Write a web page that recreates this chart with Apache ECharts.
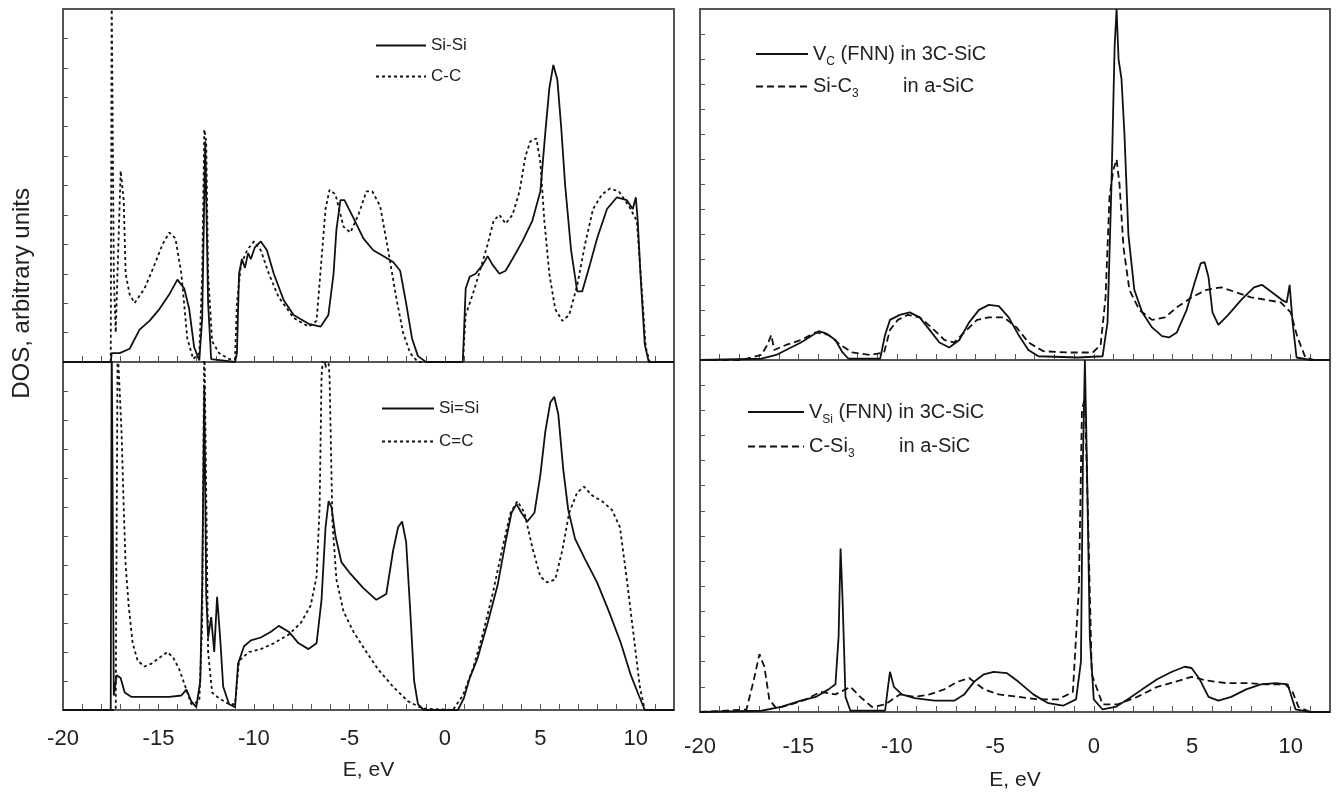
<!DOCTYPE html>
<html>
<head>
<meta charset="utf-8">
<script src="https://cdn.jsdelivr.net/npm/echarts@6/dist/echarts.min.js"></script>
<style>
  html, body { margin: 0; padding: 0; background: #fff; }
  #chart { width: 1336px; height: 793px; }
</style>
</head>
<body>
<div id="chart"></div>
<script>
// [E (eV), DOS (arb. units)]
const siSi = [[-20,0],[-17.5,0],[-17.45,0.3],[-17.03,0.3],[-16.51,0.45],[-15.99,1.1],[-15.47,1.4],[-14.95,1.8],[-14.43,2.3],[-14.01,2.8],[-13.65,2.5],[-13.39,1.8],[-13.13,0.5],[-12.86,0.05],[-12.71,1.5],[-12.55,7.5],[-12.4,2],[-12.24,0.1],[-10.99,0],[-10.89,0.3],[-10.78,3.0],[-10.63,3.5],[-10.47,3.2],[-10.31,3.7],[-10.16,3.5],[-9.95,3.9],[-9.64,4.1],[-9.32,3.8],[-8.96,3.0],[-8.44,2.1],[-7.92,1.6],[-7.14,1.3],[-6.51,1.2],[-6.1,1.6],[-5.83,3.0],[-5.68,4.5],[-5.47,5.5],[-5.26,5.5],[-4.79,4.9],[-4.27,4.2],[-3.75,3.8],[-3.23,3.6],[-2.71,3.4],[-2.34,3.1],[-2.03,2.0],[-1.72,0.8],[-1.41,0.2],[-0.99,0],[0.94,0],[1.09,2.5],[1.3,2.9],[1.61,3.0],[1.98,3.3],[2.24,3.6],[2.5,3.3],[2.86,3.0],[3.18,3.1],[3.54,3.5],[4.06,4.1],[4.58,4.8],[5.0,5.8],[5.26,7.8],[5.47,9.3],[5.68,10.1],[5.89,9.6],[6.09,8.0],[6.3,6.0],[6.61,3.8],[6.93,2.4],[7.19,2.4],[7.55,3.2],[7.97,4.2],[8.49,5.2],[9.01,5.6],[9.53,5.5],[9.84,5.2],[10.0,5.6],[10.1,4.8],[10.26,2.8],[10.47,0.6],[10.68,0],[12,0]];
const cC = [[-20,0],[-17.5,0],[-17.45,12.5],[-17.4,12.5],[-17.34,3],[-17.24,1.0],[-17.14,1.0],[-16.98,6.5],[-16.82,5.5],[-16.72,3.0],[-16.51,2.3],[-16.25,2.0],[-15.73,2.5],[-15.21,3.3],[-14.79,4.0],[-14.43,4.4],[-14.11,4.2],[-13.8,3.0],[-13.49,0.8],[-13.18,0.1],[-12.86,0.3],[-12.71,3],[-12.6,7.9],[-12.5,7.5],[-12.4,3],[-12.19,0.7],[-11.82,0.3],[-11.3,0.1],[-10.99,0.1],[-10.89,2.0],[-10.68,3.3],[-10.36,3.8],[-10.0,4.1],[-9.64,3.8],[-9.22,3.0],[-8.7,2.2],[-7.92,1.5],[-7.14,1.2],[-6.72,1.4],[-6.46,3.5],[-6.25,5.2],[-6.04,5.85],[-5.73,5.7],[-5.31,4.6],[-4.95,4.4],[-4.53,5.0],[-4.11,5.8],[-3.8,5.8],[-3.39,5.3],[-2.97,3.8],[-2.55,2.2],[-2.19,1.0],[-1.82,0.3],[-1.41,0],[0.94,0],[1.09,1.6],[1.46,2.3],[1.88,3.2],[2.24,4.0],[2.55,4.8],[2.86,5.0],[3.18,4.7],[3.54,5.0],[3.91,5.8],[4.22,7.0],[4.48,7.5],[4.79,7.6],[5.0,6.8],[5.21,4.8],[5.47,3.0],[5.78,1.8],[6.15,1.4],[6.51,1.6],[6.93,2.6],[7.34,4.0],[7.76,5.2],[8.23,5.7],[8.65,5.9],[9.11,5.8],[9.64,5.3],[10.05,4.8],[10.31,2.5],[10.52,0.5],[10.73,0],[12,0]];
const siSiDouble = [[-20,0],[-17.5,0],[-17.45,13],[-17.4,13],[-17.34,0.5],[-17.19,1.2],[-16.98,1.1],[-16.77,0.6],[-16.41,0.45],[-15.47,0.45],[-14.43,0.45],[-13.8,0.5],[-13.54,0.7],[-13.28,0.3],[-13.02,0.1],[-12.81,1.0],[-12.71,4.3],[-12.6,11.2],[-12.5,4.0],[-12.4,2.5],[-12.24,3.2],[-12.08,2.0],[-11.93,3.9],[-11.77,2.5],[-11.61,0.8],[-11.3,0.2],[-10.99,0.1],[-10.83,1.6],[-10.52,2.2],[-10.16,2.4],[-9.64,2.5],[-9.11,2.7],[-8.7,2.9],[-8.18,2.7],[-7.66,2.3],[-7.14,2.1],[-6.72,2.3],[-6.46,3.8],[-6.25,6.3],[-6.09,7.2],[-5.94,7.0],[-5.73,6.0],[-5.42,5.1],[-4.95,4.7],[-4.27,4.2],[-3.59,3.8],[-3.07,4.0],[-2.71,5.5],[-2.45,6.3],[-2.24,6.5],[-2.03,5.8],[-1.82,3.5],[-1.61,1.0],[-1.41,0.2],[-1.1,0],[0.68,0],[0.99,0.4],[1.3,1.1],[1.72,1.8],[2.24,3.0],[2.76,4.3],[3.18,5.8],[3.49,6.8],[3.75,7.1],[4.01,6.8],[4.32,6.5],[4.69,6.8],[5.0,8.1],[5.26,9.6],[5.52,10.6],[5.73,10.8],[5.94,10.2],[6.2,8.3],[6.46,6.9],[6.82,5.9],[7.34,5.2],[7.97,4.4],[8.59,3.4],[9.22,2.3],[9.74,1.2],[10.16,0.5],[10.47,0],[12,0]];
const cCDouble = [[-20,0],[-17.24,0],[-17.14,12.5],[-17.03,11],[-16.93,9.5],[-16.82,7],[-16.72,5],[-16.56,3.6],[-16.35,2.3],[-16.09,1.7],[-15.73,1.5],[-15.36,1.6],[-14.95,1.8],[-14.53,2.0],[-14.22,1.8],[-13.91,1.4],[-13.59,0.8],[-13.28,0.2],[-12.86,0.3],[-12.71,3],[-12.6,13],[-12.5,13],[-12.4,2],[-12.19,0.6],[-11.82,0.4],[-11.3,0.2],[-10.99,0.2],[-10.78,1.7],[-10.26,2.0],[-9.64,2.1],[-8.96,2.3],[-8.18,2.6],[-7.55,3.0],[-7.03,3.6],[-6.72,4.6],[-6.56,7],[-6.46,11.5],[-6.35,12.5],[-6.25,11.8],[-6.15,12.5],[-6.04,11.5],[-5.89,6.5],[-5.68,4.5],[-5.31,3.4],[-4.79,2.7],[-4.11,2.0],[-3.49,1.4],[-2.71,0.8],[-1.93,0.3],[-1.15,0.05],[0.42,0],[0.94,0.5],[1.46,1.4],[1.98,2.6],[2.5,4.0],[3.02,5.6],[3.44,6.8],[3.8,7.2],[4.17,6.8],[4.58,5.6],[5.0,4.6],[5.36,4.4],[5.78,4.5],[6.15,5.5],[6.51,6.8],[6.93,7.5],[7.29,7.7],[7.71,7.4],[8.23,7.2],[8.75,6.9],[9.17,6.3],[9.53,4.5],[9.9,2.5],[10.21,0.8],[10.47,0],[12,0]];
const vC = [[-20,0],[-16.88,0.05],[-16.13,0.2],[-15.38,0.5],[-14.87,0.7],[-14.37,0.95],[-13.97,1.15],[-13.57,1.05],[-13.12,0.8],[-12.76,0.3],[-12.46,0.05],[-10.85,0.05],[-10.6,1.0],[-10.35,1.6],[-9.85,1.8],[-9.35,1.9],[-8.84,1.7],[-8.34,1.2],[-7.84,0.7],[-7.34,0.5],[-6.83,0.8],[-6.33,1.5],[-5.83,2.0],[-5.33,2.2],[-4.82,2.15],[-4.32,1.7],[-3.82,1.0],[-3.32,0.4],[-2.81,0.15],[-0.8,0.1],[0.45,0.15],[0.7,1.5],[0.9,7],[1.06,12.5],[1.16,14],[1.26,12],[1.41,11.2],[1.56,9],[1.76,5],[2.06,2.8],[2.46,1.9],[2.96,1.3],[3.47,0.95],[3.82,0.9],[4.22,1.1],[4.72,2.0],[5.13,3.1],[5.43,3.85],[5.63,3.9],[5.83,3.3],[6.03,1.9],[6.33,1.4],[6.83,1.8],[7.49,2.4],[8.14,2.9],[8.54,3.0],[9.05,2.7],[9.55,2.4],[9.8,2.3],[9.95,3.0],[10.1,1.5],[10.3,0.1],[11,0],[12,0]];
const siC3 = [[-20,0],[-17.89,0],[-16.88,0.2],[-16.58,0.6],[-16.38,1.0],[-16.23,0.4],[-15.63,0.6],[-14.87,0.8],[-14.12,1.1],[-13.47,1.0],[-12.86,0.6],[-12.26,0.3],[-11.36,0.2],[-10.65,0.3],[-10.35,1.2],[-9.95,1.6],[-9.45,1.8],[-8.84,1.7],[-8.24,1.3],[-7.59,0.8],[-7.09,0.7],[-6.58,1.1],[-5.93,1.6],[-5.33,1.7],[-4.57,1.7],[-3.92,1.3],[-3.32,0.7],[-2.56,0.35],[-1.31,0.3],[-0.05,0.3],[0.35,0.6],[0.6,2.5],[0.8,6.5],[1.0,7.6],[1.16,8.0],[1.31,7.0],[1.51,4.5],[1.81,2.8],[2.31,2.0],[2.96,1.6],[3.62,1.7],[4.22,2.1],[4.97,2.5],[5.73,2.8],[6.48,2.9],[7.24,2.7],[7.99,2.5],[8.74,2.4],[9.5,2.3],[10.0,1.9],[10.35,0.9],[10.75,0.1],[11.2,0],[12,0]];
const vSi = [[-20,0],[-16.88,0.05],[-15.88,0.2],[-14.87,0.45],[-14.12,0.6],[-13.47,0.9],[-13.12,1.1],[-12.96,3],[-12.86,6.5],[-12.76,4.5],[-12.61,0.6],[-12.36,0.05],[-10.6,0.05],[-10.45,1.0],[-10.35,1.6],[-10.15,1.0],[-9.75,0.7],[-9.1,0.55],[-8.09,0.45],[-7.09,0.45],[-6.58,0.7],[-6.08,1.2],[-5.58,1.5],[-5.08,1.6],[-4.42,1.55],[-3.82,1.2],[-3.07,0.7],[-2.31,0.35],[-1.56,0.25],[-0.9,0.5],[-0.65,2],[-0.55,10],[-0.45,14],[-0.35,10],[-0.2,3],[0.0,0.5],[0.45,0.1],[1.11,0.2],[1.71,0.5],[2.46,0.9],[3.22,1.3],[3.97,1.6],[4.62,1.8],[4.97,1.75],[5.38,1.3],[5.83,0.6],[6.33,0.45],[6.98,0.6],[7.74,0.9],[8.49,1.1],[9.25,1.15],[9.85,1.1],[10.05,0.6],[10.25,0.1],[11,0],[12,0]];
const cSi3 = [[-20,0],[-17.64,0.1],[-17.29,1.2],[-16.98,2.3],[-16.73,1.8],[-16.48,0.5],[-16.13,0.15],[-15.38,0.3],[-14.62,0.5],[-13.87,0.8],[-13.12,0.7],[-12.36,1.0],[-11.86,0.6],[-11.26,0.2],[-10.6,0.3],[-9.85,0.7],[-9.1,0.6],[-8.34,0.7],[-7.59,0.9],[-6.93,1.2],[-6.33,1.35],[-5.58,0.9],[-4.82,0.7],[-3.82,0.6],[-2.81,0.5],[-1.81,0.5],[-1.06,0.8],[-0.75,5],[-0.6,12],[-0.45,12.5],[-0.3,8],[-0.1,1.5],[0.45,0.3],[1.21,0.3],[2.21,0.6],[3.22,1.0],[4.12,1.2],[4.97,1.4],[5.73,1.25],[6.73,1.15],[7.74,1.15],[8.74,1.1],[9.75,1.1],[10.1,0.8],[10.4,0.2],[11,0],[12,0]];

const font = "'Liberation Sans', Arial, sans-serif";
const ink = '#222';

const chart = echarts.init(document.getElementById('chart'));

const grids = [
    { left: 63, top: 9, width: 611, height: 353 },
    { left: 63, top: 362, width: 611, height: 348 },
    { left: 700, top: 9, width: 630, height: 351 },
    { left: 700, top: 360, width: 630, height: 352 }
];

const xAxis = grids.map((g, i) => ({
    type: 'value',
    gridIndex: i,
    min: -20,
    max: 12,
    interval: 1,
    name: (i === 1 || i === 3) ? 'E, eV' : '',
    nameLocation: 'middle',
    nameGap: i === 1 ? 50 : 58,
    nameTextStyle: { fontFamily: font, fontSize: 21, color: ink },
    axisLine: { show: true, onZero: false, lineStyle: { color: '#555', width: 2 } },
    axisTick: { show: true, inside: true, length: 6, lineStyle: { color: '#555' } },
    axisLabel: {
        show: i === 1 || i === 3,
        fontFamily: font,
        fontSize: 22,
        color: ink,
        margin: i === 1 ? 18 : 24,
        formatter: v => (v % 5 === 0 && v <= 10) ? String(v) : ''
    },
    splitLine: { show: false }
}));

const yMax = [12, 12, 14, 14];
const yAxis = grids.map((g, i) => ({
    type: 'value',
    gridIndex: i,
    position: 'left',
    min: 0,
    max: yMax[i],
    interval: 1,
    axisLine: { show: true, onZero: false, lineStyle: { color: '#555', width: 2 } },
    axisTick: { show: true, inside: true, length: 5, lineStyle: { color: '#555' } },
    axisLabel: { show: false },
    splitLine: { show: false }
}));

function line(name, data, idx, type) {
    return {
        name: name,
        type: 'line',
        xAxisIndex: idx,
        yAxisIndex: idx,
        data: data,
        showSymbol: false,
        symbol: 'none',
        animation: false,
        color: '#111',
        lineStyle: { color: '#111', width: 1.8, type: type || 'solid' }
    };
}

const labels = {
    'Si-Si': '{t|Si-Si}',
    'C-C': '{t|C-C}',
    'Si=Si': '{t|Si=Si}',
    'C=C': '{t|C=C}',
    'VC': '{t|V}{s|C}{t| (FNN) in 3C-SiC}',
    'SiC3': '{t|Si-C}{s|3}{t|        in a-SiC}',
    'VSi': '{t|V}{s|Si}{t| (FNN) in 3C-SiC}',
    'CSi3': '{t|C-Si}{s|3}{t|        in a-SiC}'
};
function legend(names, left, top, w, size, gap) {
    return {
        data: names,
        left: left,
        top: top,
        orient: 'vertical',
        itemWidth: w,
        itemHeight: 14,
        itemGap: gap,
        itemStyle: { opacity: 0 },
        formatter: n => labels[n],
        textStyle: {
            rich: {
                t: { fontFamily: font, fontSize: size, color: ink },
                s: { fontFamily: font, fontSize: Math.round(size * 0.6), color: ink, padding: [size * 0.75, 0, 0, 0] }
            }
        }
    };
}

chart.setOption({
    backgroundColor: '#fff',
    animation: false,
    grid: grids.map(g => Object.assign({ show: true, borderColor: '#555', borderWidth: 2, backgroundColor: 'transparent' }, g)),
    xAxis: xAxis,
    yAxis: yAxis,
    legend: [
        legend(['Si-Si', 'C-C'], 370, 32, 50, 17, 14),
        legend(['Si=Si', 'C=C'], 376, 395, 52, 17, 16),
        legend(['VC', 'SiC3'], 750, 39, 52, 20, 9),
        legend(['VSi', 'CSi3'], 742, 397, 56, 20, 11)
    ],
    graphic: [{
        type: 'text',
        left: 10,
        top: 188,
        rotation: Math.PI / 2,
        style: { text: 'DOS, arbitrary units', fontFamily: font, fontSize: 24, fill: ink }
    }],
    series: [
        line('Si-Si', siSi, 0),
        line('C-C', cC, 0, [3, 3]),
        line('Si=Si', siSiDouble, 1),
        line('C=C', cCDouble, 1, [3, 3]),
        line('VC', vC, 2),
        line('SiC3', siC3, 2, [7, 4]),
        line('VSi', vSi, 3),
        line('CSi3', cSi3, 3, [7, 4])
    ]
});
</script>
</body>
</html>
